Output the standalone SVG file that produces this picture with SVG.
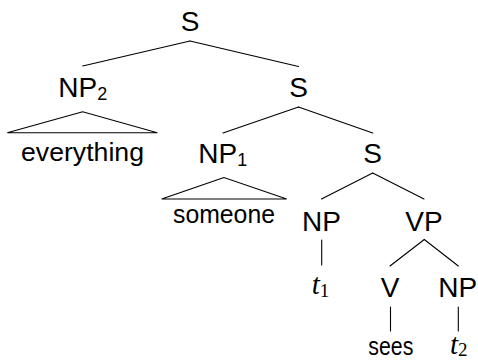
<svg xmlns="http://www.w3.org/2000/svg" width="478" height="361" viewBox="0 0 478 361">
  <style>
    .edge { stroke: #000; stroke-width: 1.1; fill: none; stroke-linecap: round; stroke-linejoin: miter; }
    .cat { font-family: "Liberation Sans", Arial, sans-serif; font-size: 28px; fill: #000; }
    .sub { font-family: "Liberation Sans", Arial, sans-serif; font-size: 18px; fill: #000; }
    .word { font-family: "Liberation Sans", Arial, sans-serif; font-size: 25px; fill: #000; }
    .trace { font-family: "Liberation Serif", "Times New Roman", serif; font-size: 29px; font-style: italic; fill: #000; }
    .tsub { font-family: "Liberation Serif", "Times New Roman", serif; font-size: 19px; font-style: normal; fill: #000; }
  </style>

  <!-- branches and roofs -->
  <g id="connectors" class="edge">
    <path d="M190 41 L82.7 66"/>
    <path d="M190 41 L298.5 66.5"/>
    <path d="M298.5 107 L223 133"/>
    <path d="M298.5 107 L372.7 133"/>
    <path d="M372.7 173 L321.5 199"/>
    <path d="M372.7 173 L424 199"/>
    <path d="M321.7 240 L321.7 265"/>
    <path d="M424.3 239.5 L390 266"/>
    <path d="M424.3 239.5 L458.3 266"/>
    <path d="M390.5 307 L390.5 331"/>
    <path d="M458.3 307 L458.3 331"/>
    <polygon points="82.7,111.7 7.3,132.7 157.3,132.7"/>
    <polygon points="224,177.5 161.7,199 286.7,199"/>
  </g>

  <!-- root clause -->
  <g id="s-root">
    <text class="cat" x="190" y="31" text-anchor="middle">S</text>
  </g>

  <!-- raised object -->
  <g id="np2">
    <text class="cat" x="58.3" y="97">NP<tspan class="sub" dy="3">2</tspan></text>
  </g>
  <g id="everything">
    <text class="word" x="82.5" y="161" text-anchor="middle" textLength="123" lengthAdjust="spacingAndGlyphs">everything</text>
  </g>

  <g id="s-mid">
    <text class="cat" x="298.5" y="97" text-anchor="middle">S</text>
  </g>

  <!-- raised subject -->
  <g id="np1">
    <text class="cat" x="198.3" y="163">NP<tspan class="sub" dy="3">1</tspan></text>
  </g>
  <g id="someone">
    <text class="word" x="224" y="223" text-anchor="middle" textLength="102" lengthAdjust="spacingAndGlyphs">someone</text>
  </g>

  <g id="s-low">
    <text class="cat" x="372.7" y="163" text-anchor="middle">S</text>
  </g>

  <!-- subject trace -->
  <g id="np-subj">
    <text class="cat" x="321.5" y="231" text-anchor="middle">NP</text>
  </g>
  <g id="t1">
    <text class="trace" x="311.7" y="294">t<tspan class="tsub" dy="3">1</tspan></text>
  </g>

  <!-- verb phrase -->
  <g id="vp">
    <text class="cat" x="424" y="231" text-anchor="middle">VP</text>
  </g>
  <g id="v">
    <text class="cat" x="390" y="297" text-anchor="middle">V</text>
  </g>
  <g id="sees">
    <text class="word" x="390.8" y="355" text-anchor="middle" textLength="45" lengthAdjust="spacingAndGlyphs">sees</text>
  </g>
  <g id="np-obj">
    <text class="cat" x="457.8" y="297" text-anchor="middle">NP</text>
  </g>
  <g id="t2">
    <text class="trace" x="450" y="354">t<tspan class="tsub" dy="2">2</tspan></text>
  </g>
</svg>
